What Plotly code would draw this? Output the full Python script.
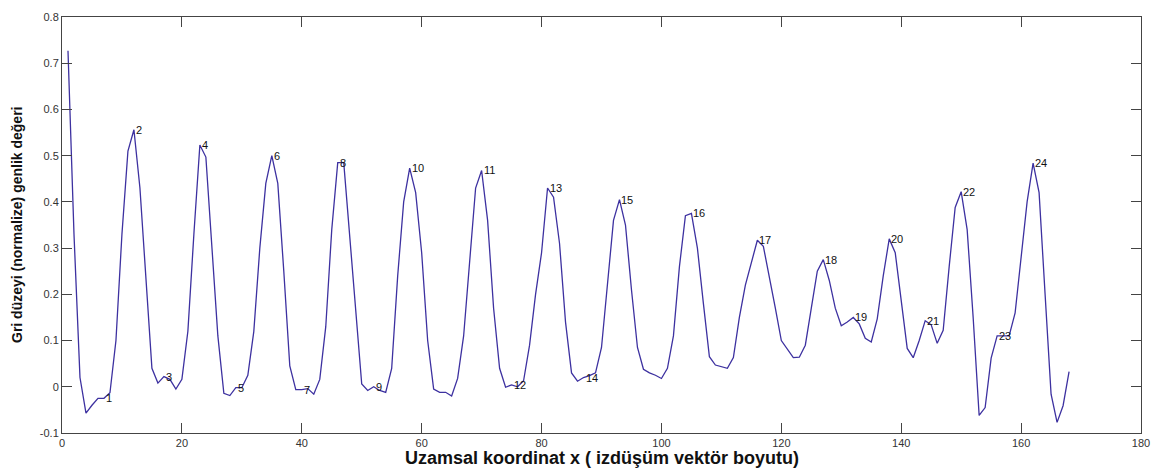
import plotly.graph_objects as go

# Sample index along the projection vector (1..168)
sample_x = list(range(1, 169))

# Normalised grey-level amplitude per sample
gray_level = [
    0.727, 0.33, 0.02, -0.057, -0.04, -0.025, -0.025, -0.013, 0.10, 0.33,      # 1-10
    0.51, 0.556, 0.43, 0.23, 0.04, 0.008, 0.022, 0.016, -0.005, 0.016,        # 11-20
    0.12, 0.33, 0.523, 0.497, 0.31, 0.11, -0.014, -0.019, -0.002, -0.002,     # 21-30
    0.025, 0.12, 0.30, 0.44, 0.50, 0.44, 0.25, 0.045, -0.006, -0.006,         # 31-40
    -0.004, -0.016, 0.016, 0.13, 0.34, 0.485, 0.485, 0.33, 0.17, 0.006,       # 41-50
    -0.008, 0.0, -0.008, -0.012, 0.04, 0.24, 0.40, 0.473, 0.42, 0.29,         # 51-60
    0.10, -0.005, -0.012, -0.012, -0.02, 0.018, 0.11, 0.27, 0.43, 0.468,      # 61-70
    0.36, 0.17, 0.04, -0.001, 0.004, 0.0, 0.013, 0.09, 0.20, 0.29,            # 71-80
    0.43, 0.41, 0.31, 0.14, 0.03, 0.012, 0.02, 0.024, 0.03, 0.085,            # 81-90
    0.22, 0.36, 0.405, 0.35, 0.21, 0.085, 0.038, 0.03, 0.025, 0.018,          # 91-100
    0.04, 0.11, 0.26, 0.37, 0.375, 0.30, 0.18, 0.065, 0.047, 0.043,           # 101-110
    0.04, 0.063, 0.15, 0.22, 0.27, 0.317, 0.304, 0.24, 0.17, 0.10,            # 111-120
    0.08, 0.063, 0.064, 0.09, 0.17, 0.25, 0.275, 0.23, 0.17, 0.132,           # 121-130
    0.14, 0.15, 0.136, 0.105, 0.097, 0.147, 0.24, 0.32, 0.29, 0.19,           # 131-140
    0.083, 0.063, 0.10, 0.143, 0.134, 0.094, 0.122, 0.26, 0.388, 0.422,       # 141-150
    0.34, 0.15, -0.062, -0.045, 0.062, 0.11, 0.11, 0.11, 0.16, 0.28,          # 151-160
    0.40, 0.484, 0.42, 0.20, -0.016, -0.077, -0.041, 0.033,                   # 161-168
]

# Numbered extrema: sample index of each marked peak / trough
marker_ids = list(range(1, 25))
marker_x = [7, 12, 17, 23, 29, 35, 40, 46, 52, 58, 70, 75,
            81, 87, 93, 105, 116, 127, 132, 138, 144, 150, 156, 162]

x_ticks = [0, 20, 40, 60, 80, 100, 120, 140, 160, 180]
y_ticks = [-0.1, 0, 0.1, 0.2, 0.3, 0.4, 0.5, 0.6, 0.7, 0.8]
y_tick_text = ["-0.1", "0", "0.1", "0.2", "0.3", "0.4", "0.5", "0.6", "0.7", "0.8"]

x_title = "Uzamsal koordinat x ( izdüşüm vektör boyutu)"
y_title = "Gri düzeyi (normalize) genlik değeri"

FONT = "Arial, Liberation Sans, sans-serif"

fig = go.Figure()
fig.add_trace(go.Scatter(
    x=sample_x, y=gray_level, mode="lines",
    line=dict(color="#3d31a0", width=1.3),
    hoverinfo="x+y", showlegend=False,
))

lookup = dict(zip(sample_x, gray_level))
for mid, mx in zip(marker_ids, marker_x):
    fig.add_annotation(
        x=mx, y=lookup[mx], text=str(mid), showarrow=False,
        xanchor="left", yanchor="middle", xshift=0,
        font=dict(family=FONT, size=11, color="#111"),
    )

axis_common = dict(
    showline=True, linecolor="#444", linewidth=1, mirror="ticks",
    ticks="inside", ticklen=10, tickcolor="#444", tickwidth=1,
    showgrid=False, zeroline=False,
    tickfont=dict(family=FONT, size=11, color="#333"),
)

fig.update_xaxes(range=[0, 180], tickvals=x_ticks, **axis_common)
fig.update_yaxes(range=[-0.1, 0.8], tickvals=y_ticks, ticktext=y_tick_text, **axis_common)

fig.add_annotation(
    x=0.5, y=0, xref="paper", yref="paper", text="<b>" + x_title + "</b>",
    showarrow=False, xanchor="center", yanchor="top", yshift=-13,
    font=dict(family=FONT, size=18, color="#111"),
)
fig.add_annotation(
    x=0, y=0.5, xref="paper", yref="paper", text="<b>" + y_title + "</b>",
    showarrow=False, textangle=-90, xanchor="right", yanchor="middle", xshift=-35,
    font=dict(family=FONT, size=14, color="#111"),
)

fig.update_layout(
    width=1161, height=472,
    margin=dict(l=62, r=17, t=11, b=39),
    paper_bgcolor="white", plot_bgcolor="white",
)

fig.write_html("out.html")
